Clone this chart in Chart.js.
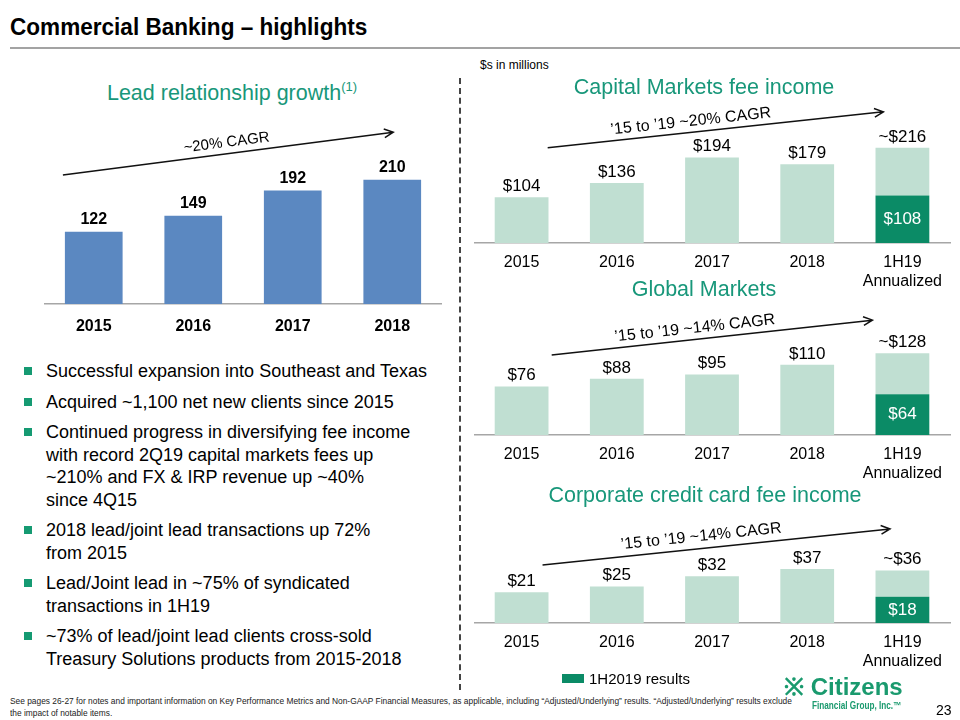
<!DOCTYPE html>
<html><head><meta charset="utf-8">
<script src="https://cdn.jsdelivr.net/npm/chart.js@4"></script>
<style>
body{margin:0;width:960px;height:720px;position:relative;background:#fff;font-family:"Liberation Sans",Arial,sans-serif;overflow:hidden;color:#000}
.abs{position:absolute;white-space:nowrap}
.c{position:absolute;transform:translate(-50%,-50%);white-space:nowrap}
.teal{color:#18977a}
canvas{position:absolute}
#title{left:10px;top:13px;font-size:23.5px;font-weight:bold;line-height:28px;transform:scaleX(0.96);transform-origin:0 0}
#rule{left:10px;top:47px;width:950px;height:2px;background:#a3a3a3}
#divider{left:459px;top:78px;height:612px;border-left:2px dashed #444}
.h{font-size:21.5px;line-height:26px;z-index:2}
ul{position:absolute;left:0;top:360px;margin:0;padding:0;list-style:none;font-size:18px;line-height:22.5px;width:460px}
li{position:relative;padding-left:46px;margin-bottom:8px;white-space:nowrap}
li:before{content:"";position:absolute;left:24px;top:7px;width:8px;height:8px;background:#159a72}
#foot{left:10px;top:695px;font-size:9.5px;line-height:12px;color:#222;transform:scaleX(0.88);transform-origin:0 0}
#legend{left:562px;top:671px;font-size:15px;line-height:16px}
#legend span{display:inline-block;width:22px;height:9px;background:#0b8b66;margin-right:5px;vertical-align:1px}
#logo{left:784px;top:673px;color:#1a9a6e;font-weight:bold}
#logo .big{font-size:24px;line-height:27px}
#logo .small{font-size:10px;line-height:12px;margin-left:28px;transform:scaleX(0.82);transform-origin:0 0}
#page{left:936px;top:702px;font-size:14px}
</style></head><body>
<div id="title" class="abs">Commercial Banking – highlights</div>
<div id="rule" class="abs"></div>
<div id="divider" class="abs"></div>
<div class="c h teal" style="left:232px;top:90px">Lead relationship growth<sup style="font-size:13px">(1)</sup></div>
<div class="abs" style="left:480px;top:58px;font-size:12px">$s in millions</div>
<div class="c h teal" style="left:704px;top:87px">Capital Markets fee income</div>
<div class="c h teal" style="left:704px;top:289px">Global Markets</div>
<div class="c h teal" style="left:705px;top:495px">Corporate credit card fee income</div>

<canvas id="leadChart" width="398" height="234" style="left:44px;top:110px"></canvas>
<canvas id="capChart" width="478" height="198" style="left:474px;top:95px"></canvas>
<canvas id="gmChart" width="478" height="185" style="left:474px;top:300px"></canvas>
<canvas id="cardChart" width="478" height="168" style="left:474px;top:505px"></canvas>

<ul>
<li>Successful expansion into Southeast and Texas</li>
<li>Acquired ~1,100 net new clients since 2015</li>
<li>Continued progress in diversifying fee income<br>with record 2Q19 capital markets fees up<br>~210% and FX &amp; IRP revenue up ~40%<br>since 4Q15</li>
<li>2018 lead/joint lead transactions up 72%<br>from 2015</li>
<li>Lead/Joint lead in ~75% of syndicated<br>transactions in 1H19</li>
<li>~73% of lead/joint lead clients cross-sold<br>Treasury Solutions products from 2015-2018</li>
</ul>

<div id="legend" class="abs"><span></span>1H2019 results</div>
<div id="foot" class="abs">See pages 26-27 for notes and important information on Key Performance Metrics and Non-GAAP Financial Measures, as applicable, including “Adjusted/Underlying” results. “Adjusted/Underlying” results exclude<br>the impact of notable items.</div>
<div id="logo" class="abs"><div class="big">※ Citizens</div><div class="small">Financial Group, Inc.™</div></div>
<div id="page" class="abs">23</div>

<script>
// ---- data ----
const leadYears = ['2015', '2016', '2017', '2018'];
const leadRelationships = [122, 149, 192, 210];

const feeCategories = ['2015', '2016', '2017', '2018', ['1H19', 'Annualized']];
const capitalMarkets = [104, 136, 194, 179, 216];
const capitalMarkets1H = 108;
const globalMarkets = [76, 88, 95, 110, 128];
const globalMarkets1H = 64;
const cardFees = [21, 25, 32, 37, 36];
const cardFees1H = 18;

const FONT = '"Liberation Sans", Arial, sans-serif';
const LIGHT = '#c0dfd2', DARK = '#0b8b66', BLUE = '#5b88c1';

function labelPlugin(cfg) {
  return {
    id: 'valueLabels',
    afterDatasetsDraw(chart) {
      const ctx = chart.ctx;
      ctx.save();
      ctx.textAlign = 'center';
      ctx.textBaseline = 'middle';
      const n = chart.data.labels.length;
      for (let i = 0; i < n; i++) {
        let topY = Infinity, x = null;
        chart.data.datasets.forEach((ds, di) => {
          if (ds.data[i] == null) return;
          const el = chart.getDatasetMeta(di).data[i];
          if (el.y < topY) { topY = el.y; x = el.x; }
        });
        ctx.font = cfg.font;
        ctx.fillStyle = '#000';
        ctx.fillText(cfg.total(i), x, topY - cfg.offset);
        if (cfg.inner) {
          const t = cfg.inner(i);
          if (t) {
            const el = chart.getDatasetMeta(cfg.innerDataset).data[i];
            ctx.fillStyle = '#fff';
            ctx.font = cfg.font;
            ctx.fillText(t, el.x, (el.y + el.base) / 2);
          }
        }
      }
      ctx.restore();
    }
  };
}

function arrowPlugin(a) {
  return {
    id: 'cagrArrow',
    afterDraw(chart) {
      const xs = chart.scales.x, ys = chart.scales.y, ctx = chart.ctx;
      const x1 = xs.getPixelForValue(a.from[0]), y1 = ys.getPixelForValue(a.from[1]);
      const x2 = xs.getPixelForValue(a.to[0]), y2 = ys.getPixelForValue(a.to[1]);
      const ang = Math.atan2(y2 - y1, x2 - x1);
      ctx.save();
      ctx.strokeStyle = '#111';
      ctx.lineWidth = 1.5;
      ctx.beginPath();
      ctx.moveTo(x1, y1); ctx.lineTo(x2, y2);
      const hl = 10, ha = 0.45;
      ctx.moveTo(x2 - hl * Math.cos(ang - ha), y2 - hl * Math.sin(ang - ha));
      ctx.lineTo(x2, y2);
      ctx.lineTo(x2 - hl * Math.cos(ang + ha), y2 - hl * Math.sin(ang + ha));
      ctx.stroke();
      const tx = x1 + (x2 - x1) * a.at, ty = y1 + (y2 - y1) * a.at;
      ctx.translate(tx, ty);
      ctx.rotate(ang);
      ctx.font = a.font;
      ctx.fillStyle = '#000';
      ctx.textAlign = 'center';
      ctx.textBaseline = 'middle';
      ctx.fillText(a.text, 0, -a.offset);
      ctx.restore();
    }
  };
}

function xAxis(height, padding, bold) {
  return {
    grid: { display: false, drawTicks: false },
    border: { display: true, color: '#a6a6a6', width: 1.5 },
    ticks: { color: '#000', padding: padding, font: { family: FONT, size: 16, weight: bold ? 'bold' : 'normal' } },
    afterFit(scale) { scale.height = height; }
  };
}

const baseOpts = {
  responsive: false,
  animation: false,
  layout: { padding: 0 },
  plugins: { legend: { display: false }, tooltip: { enabled: false } }
};

// ---- left chart ----
new Chart(document.getElementById('leadChart'), {
  type: 'bar',
  data: {
    labels: leadYears,
    datasets: [{ data: leadRelationships, backgroundColor: BLUE, categoryPercentage: 1, barPercentage: 0.58 }]
  },
  options: Object.assign({}, baseOpts, {
    scales: {
      x: xAxis(40, 13, true),
      y: { display: false, min: 0, max: 328 }
    }
  }),
  plugins: [
    labelPlugin({ font: 'bold 16px ' + FONT, offset: 12, total: i => String(leadRelationships[i]) }),
    arrowPlugin({ from: [-0.31, 218], to: [3.01, 290.5], at: 0.5, offset: 11, text: '~20% CAGR', font: '15px ' + FONT })
  ]
});

// ---- right stacked charts ----
function feeChart(id, values, firstHalf, yMax, arrow) {
  const last = values.length - 1;
  const rest = values.map((v, i) => i === last ? v - firstHalf : v);
  const h1 = values.map((v, i) => i === last ? firstHalf : null);
  new Chart(document.getElementById(id), {
    type: 'bar',
    data: {
      labels: feeCategories,
      datasets: [
        { label: '1H2019 results', data: h1, backgroundColor: DARK, categoryPercentage: 1, barPercentage: 0.565 },
        { label: 'Total', data: rest, backgroundColor: LIGHT, categoryPercentage: 1, barPercentage: 0.565 }
      ]
    },
    options: Object.assign({}, baseOpts, {
      scales: {
        x: Object.assign(xAxis(50, 10, false), { stacked: true }),
        y: { display: false, stacked: true, min: 0, max: yMax }
      }
    }),
    plugins: [
      labelPlugin({
        font: '17px ' + FONT, offset: 11,
        total: i => (i === last ? '~$' : '$') + values[i],
        inner: i => i === last ? '$' + firstHalf : null,
        innerDataset: 0
      }),
      arrowPlugin(arrow)
    ]
  });
}

feeChart('capChart', capitalMarkets, capitalMarkets1H, 336,
  { from: [0.274, 216], to: [3.80, 297.7], at: 0.43, offset: 11, text: '’15 to ’19 ~20% CAGR', font: '16px ' + FONT });
feeChart('gmChart', globalMarkets, globalMarkets1H, 211.6,
  { from: [0.316, 125.4], to: [3.685, 180], at: 0.45, offset: 11, text: '’15 to ’19 ~14% CAGR', font: '16px ' + FONT });
feeChart('cardChart', cardFees, cardFees1H, 80.8,
  { from: [0.22, 39.7], to: [3.87, 64.4], at: 0.46, offset: 12, text: '’15 to ’19 ~14% CAGR', font: '16px ' + FONT });
</script>
</body></html>
